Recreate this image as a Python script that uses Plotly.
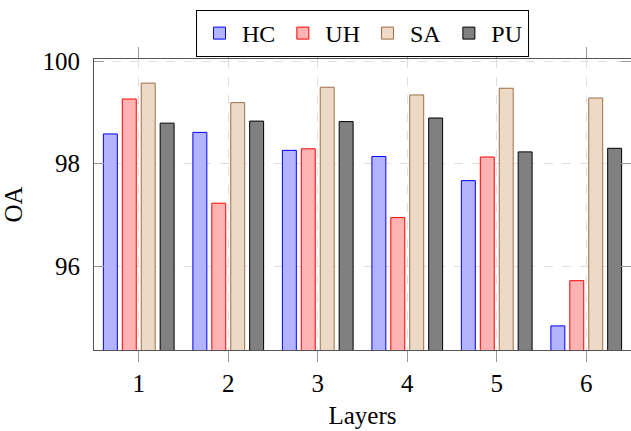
import plotly.graph_objects as go

layers = [1, 2, 3, 4, 5, 6]
hc = [98.58, 98.61, 98.26, 98.14, 97.67, 94.84]
uh = [99.26, 97.23, 98.29, 96.95, 98.13, 95.72]
sa = [99.57, 99.19, 99.49, 99.34, 99.47, 99.28]
pu = [98.79, 98.83, 98.82, 98.89, 98.23, 98.30]

series = [
    ("HC", hc, "#B3B3FF", "#0000FF"),
    ("UH", uh, "#FFB3B3", "#FF0000"),
    ("SA", sa, "#ECD9C6", "#9B7048"),
    ("PU", pu, "#808080", "#000000"),
]

FONT = "Liberation Serif, DejaVu Serif, serif"

fig = go.Figure()
for name, vals, fill, edge in series:
    fig.add_trace(go.Bar(
        x=layers, y=vals, name=name,
        marker=dict(color=fill, line=dict(color=edge, width=1)),
    ))

fig.update_layout(
    width=631, height=431,
    margin=dict(l=94, r=0, t=59, b=81, autoexpand=False),
    plot_bgcolor="white", paper_bgcolor="white",
    barmode="group", bargap=0.154, bargroupgap=0.263,
    font=dict(family=FONT, size=24, color="black"),
    legend=dict(
        orientation="h", x=0.5, xanchor="center",
        yref="container", y=1 - 10 / 431, yanchor="top",
        bordercolor="black", borderwidth=1, bgcolor="white",
        font=dict(family=FONT, size=24, color="black"),
        itemwidth=35, tracegroupgap=0,
    ),
    xaxis=dict(
        range=[0.5, 6.5], tickvals=layers, ticktext=[str(v) for v in layers],
        ticks="outside", ticklen=11, tickcolor="#999999", tickwidth=1,
        showline=True, linecolor="#555555", linewidth=1, mirror="ticks",
        showgrid=True, gridcolor="#e0e0e0", griddash="dash", gridwidth=1,
        zeroline=False,
        title=dict(text="Layers", font=dict(family=FONT, size=25), standoff=10),
        tickfont=dict(family=FONT, size=25),
    ),
    yaxis=dict(
        range=[94.37, 100.04], tickvals=[96, 98, 100],
        ticks="inside", ticklen=10, tickcolor="#999999", tickwidth=1,
        showline=True, linecolor="#555555", linewidth=1, mirror="ticks",
        showgrid=True, gridcolor="#e0e0e0", griddash="dash", gridwidth=1,
        zeroline=False,
        title=dict(text="OA", font=dict(family=FONT, size=25), standoff=12),
        tickfont=dict(family=FONT, size=25),
        ticklabelstandoff=8,
    ),
)

fig.write_html("out.html")
